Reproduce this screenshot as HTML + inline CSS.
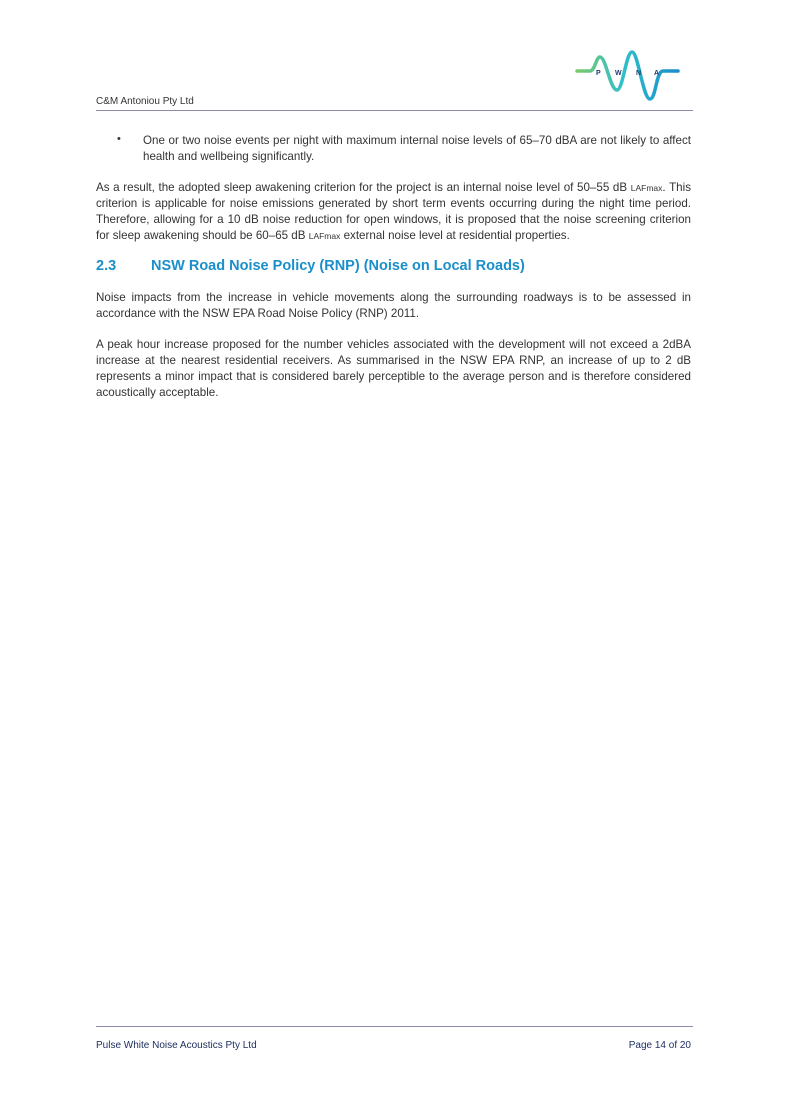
<!DOCTYPE html>
<html><head><meta charset="utf-8"><style>
body{margin:0;width:785px;height:1110px;background:#fff;position:relative;font-family:"Liberation Sans",sans-serif;color:#333;overflow:hidden}
.a{position:absolute}
.l{position:absolute;font-size:11.6px;line-height:16px;text-align:justify;text-align-last:justify;white-space:normal;height:16px;overflow:visible}
.e{text-align-last:left}
.sc{font-size:8.5px}
</style></head><body>
<div class="a" style="left:96px;top:96px;font-size:10px;color:#333">C&amp;M Antoniou Pty Ltd</div>
<svg class="a" style="left:570px;top:50px" width="120" height="60" viewBox="0 0 120 60">
<defs><linearGradient id="g" x1="0" x2="1"><stop offset="0" stop-color="#7cc96a"/><stop offset="0.45" stop-color="#2fc0c8"/><stop offset="1" stop-color="#1a8cd0"/></linearGradient></defs>
<path d="M7 21 H20 C25 21 26 7 30 7 C36 7 40 40 47 40 C53 40 56 2 62 2 C68 2 73 49 80 49 C86 49 86 21 93 21 H108" fill="none" stroke="url(#g)" stroke-width="3.5" stroke-linecap="round"/>
<text x="26" y="25" font-size="7" font-family="Liberation Sans" font-weight="bold" fill="#1e3a6e">P</text>
<text x="45" y="25" font-size="7" font-family="Liberation Sans" font-weight="bold" fill="#1e3a6e">W</text>
<text x="66" y="25" font-size="7" font-family="Liberation Sans" font-weight="bold" fill="#1e3a6e">N</text>
<text x="84" y="25" font-size="7" font-family="Liberation Sans" font-weight="bold" fill="#1e3a6e">A</text>
</svg>
<div class="a" style="left:96px;top:110px;width:597px;height:1px;background:#8e8aab"></div>

<div class="a" style="left:117px;top:133px;font-size:11px">•</div>
<div class="l" style="left:143px;top:133px;width:548px">One or two noise events per night with maximum internal noise levels of 65–70 dBA are not likely to affect</div>
<div class="l e" style="left:143px;top:149px;width:548px">health and wellbeing significantly.</div>

<div class="l" style="left:96px;top:180px;width:595px">As a result, the adopted sleep awakening criterion for the project is an internal noise level of 50–55 dB <span class="sc">LAFmax</span>. This</div>
<div class="l" style="left:96px;top:196px;width:595px">criterion is applicable for noise emissions generated by short term events occurring during the night time period.</div>
<div class="l" style="left:96px;top:212px;width:595px">Therefore, allowing for a 10 dB noise reduction for open windows, it is proposed that the noise screening criterion</div>
<div class="l e" style="left:96px;top:228px;width:595px">for sleep awakening should be 60–65 dB <span class="sc">LAFmax</span> external noise level at residential properties.</div>

<div class="a" style="left:96px;top:258px;font-size:14.5px;font-weight:bold;color:#1a8fc9">2.3</div>
<div class="a" style="left:151px;top:258px;font-size:14.5px;font-weight:bold;color:#1a8fc9">NSW Road Noise Policy (RNP) (Noise on Local Roads)</div>

<div class="l" style="left:96px;top:290px;width:595px">Noise impacts from the increase in vehicle movements along the surrounding roadways is to be assessed in</div>
<div class="l e" style="left:96px;top:306px;width:595px">accordance with the NSW EPA Road Noise Policy (RNP) 2011.</div>

<div class="l" style="left:96px;top:337px;width:595px">A peak hour increase proposed for the number vehicles associated with the development will not exceed a 2dBA</div>
<div class="l" style="left:96px;top:353px;width:595px">increase at the nearest residential receivers. As summarised in the NSW EPA RNP, an increase of up to 2 dB</div>
<div class="l" style="left:96px;top:369px;width:595px">represents a minor impact that is considered barely perceptible to the average person and is therefore considered</div>
<div class="l e" style="left:96px;top:385px;width:595px">acoustically acceptable.</div>

<div class="a" style="left:96px;top:1026px;width:597px;height:1px;background:#8e8aab"></div>
<div class="a" style="left:96px;top:1040px;font-size:10px;color:#1e3060">Pulse White Noise Acoustics Pty Ltd</div>
<div class="a" style="right:94px;top:1040px;font-size:10px;color:#1e3060">Page 14 of 20</div>
</body></html>
